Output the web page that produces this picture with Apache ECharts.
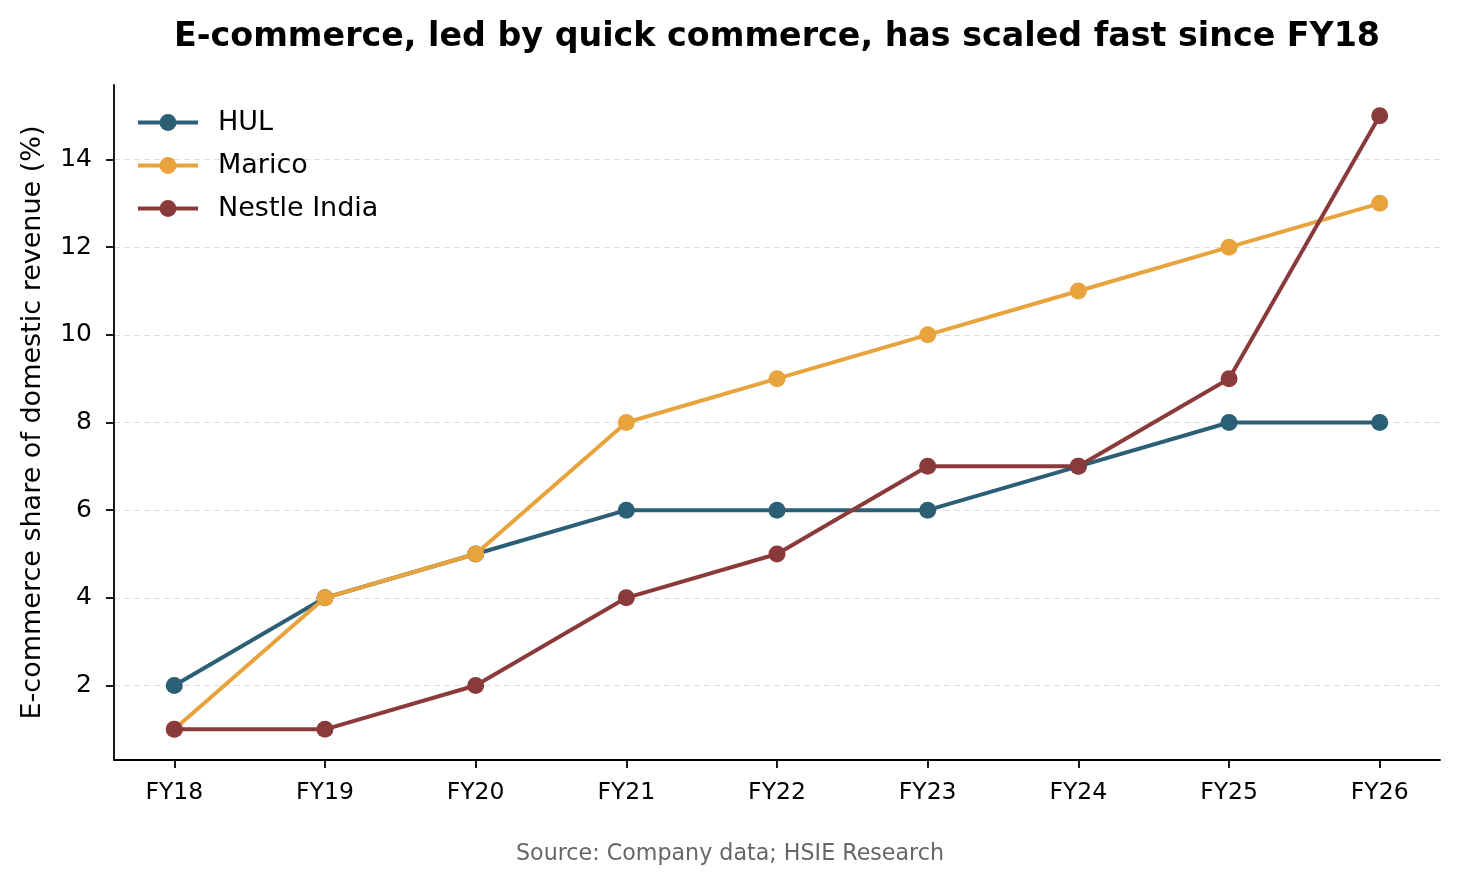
<!DOCTYPE html>
<html>
<head>
<meta charset="utf-8">
<script src="https://cdn.jsdelivr.net/npm/echarts@6/dist/echarts.min.js"></script>
<style>
  html, body { margin: 0; padding: 0; background: #fff; }
  #container { width: 1460px; height: 885px; }
</style>
</head>
<body>
<div id="container"></div>
<script>
// values
const years = ['FY18', 'FY19', 'FY20', 'FY21', 'FY22', 'FY23', 'FY24', 'FY25', 'FY26'];
const hul = [2, 4, 5, 6, 6, 6, 7, 8, 8];
const marico = [1, 4, 5, 8, 9, 10, 11, 12, 13];
const nestle = [1, 1, 2, 4, 5, 7, 7, 9, 15];
const yTicks = [2, 4, 6, 8, 10, 12, 14];

const xTicks = years.map(function (y, i) { return i; });
const font = 'DejaVu Sans';

function pairs(arr) {
  return arr.map(function (v, i) { return [i, v]; });
}

function lineSeries(name, values, color, z) {
  return {
    name: name,
    type: 'line',
    z: z,
    data: pairs(values),
    symbol: 'circle',
    symbolSize: 17,
    lineStyle: { width: 4, color: color },
    itemStyle: { color: color },
    emphasis: { disabled: true }
  };
}

let myChart = echarts.init(document.getElementById('container'));
myChart.setOption({
  animation: false,
  backgroundColor: '#fff',
  title: [
    {
      text: 'E-commerce, led by quick commerce, has scaled fast since FY18',
      left: 772,
      top: 16,
      textAlign: 'center',
      textStyle: { fontFamily: font, fontSize: 33.3, fontWeight: 'bold', color: '#000' }
    },
    {
      text: 'Source: Company data; HSIE Research',
      left: 725,
      top: 838,
      textAlign: 'center',
      textStyle: { fontFamily: font, fontSize: 22.2, fontWeight: 'normal', color: '#666' }
    }
  ],
  legend: {
    orient: 'vertical',
    left: 131,
    top: 104,
    itemWidth: 60,
    itemHeight: 21,
    itemGap: 16,
    lineStyle: { width: 4 },
    textStyle: { fontFamily: font, fontSize: 27, color: '#000', padding: [0, 0, 0, 15] },
    data: ['HUL', 'Marico', 'Nestle India']
  },
  grid: { left: 114, right: 20, top: 85, bottom: 125, containLabel: false },
  xAxis: {
    type: 'value',
    min: -0.4,
    max: 8.4,
    axisLine: { show: true, onZero: false, lineStyle: { color: '#000', width: 1.8 } },
    axisTick: { show: true, customValues: xTicks, length: 8, lineStyle: { color: '#000', width: 1.8 } },
    axisLabel: {
      customValues: xTicks,
      formatter: function (v) { return years[v]; },
      fontFamily: font, fontSize: 23.5, color: '#000', margin: 21
    },
    splitLine: { show: false }
  },
  yAxis: {
    type: 'value',
    min: 0.3,
    max: 15.7,
    name: 'E-commerce share of domestic revenue (%)',
    nameLocation: 'middle',
    nameGap: 68,
    nameTextStyle: { fontFamily: font, fontSize: 27, color: '#000' },
    axisLine: { show: true, onZero: false, lineStyle: { color: '#000', width: 1.8 } },
    axisTick: { show: true, customValues: yTicks, length: 8, lineStyle: { color: '#000', width: 1.8 } },
    axisLabel: { customValues: yTicks, fontFamily: font, fontSize: 25, color: '#000', margin: 22 },
    splitLine: { show: true, lineStyle: { color: '#dddddd', width: 1.2, type: [6, 4] } }
  },
  series: [
    lineSeries('HUL', hul, '#2b5f75', 2),
    lineSeries('Marico', marico, '#e8a33c', 3),
    lineSeries('Nestle India', nestle, '#8b3a3c', 4)
  ]
});
</script>
</body>
</html>
